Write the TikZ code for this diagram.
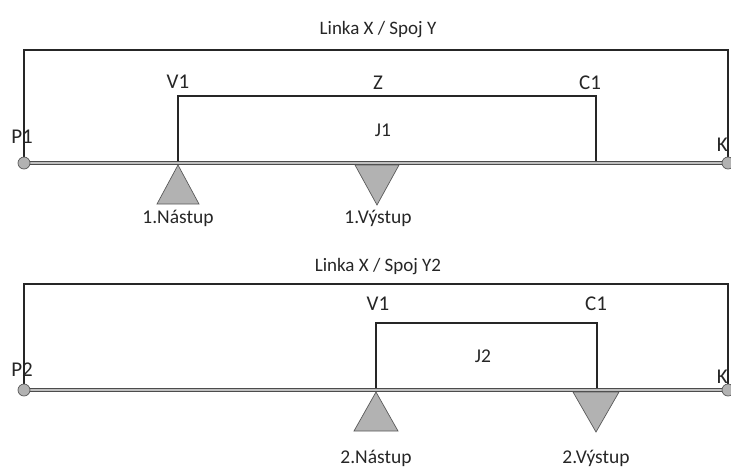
\documentclass[tikz,border=0pt]{standalone}
\usepackage{fontspec}
\setmainfont{Carlito}
\usetikzlibrary{positioning, calc}
\tikzset{
    frame/.style={draw=black!85, line width=1.1pt},
    track/.style={draw=black!70, double=gray!50, double distance=1.8pt, line width=1pt},
    stopmark/.style={draw=black!65, fill=gray!60, line width=0.7pt},
    endpt/.style={circle, draw=black!65, fill=gray!60, line width=0.7pt,
                  minimum size=12pt, inner sep=0pt},
    ptlbl/.style={font=\fontsize{21}{21}\selectfont, inner sep=0pt, text=black!85},
    titlelbl/.style={font=\fontsize{19}{19}\selectfont, inner sep=0pt, text=black!85},
    stoplbl/.style={font=\fontsize{19.5}{19.5}\selectfont, inner sep=0pt, text=black!85},
}
\begin{document}
\begin{tikzpicture}[x=1pt, y=1pt]
    \useasboundingbox (0,0) rectangle (731,-467);
    % upper run
    \node[titlelbl] (title1) at (378,-30) {Linka X / Spoj Y};
    \coordinate (a1) at (24,-163);
    \coordinate (b1) at (728,-163);
    \coordinate (v1) at (178,-163);
    \coordinate (c1) at (596,-163);
    \draw[frame] (a1) |- (728,-50) -- (b1);
    \draw[frame] (v1) |- (596,-96) -- (c1);
    \draw[track] (a1) -- (b1);
    \node[endpt] (p1) at (a1) {};
    \node[endpt] (k1) at (b1) {};
    \node[ptlbl] (lblv1) at (178,-82) {V1};
    \node[ptlbl] (lblz) at (378,-83) {Z};
    \node[ptlbl] (lblc1) at (590,-83) {C1};
    \node[stoplbl] (lblj1) at (383,-130) {J1};
    \node[ptlbl] (lblp1) at (22,-137) {P1};
    \node[ptlbl, left=0pt of b1, yshift=18pt] (lblk1) {K};
    \draw[stopmark] (178,-165) -- (199,-204) -- (157,-204) -- cycle;
    \draw[stopmark] (355,-165) -- (399,-165) -- (377,-205) -- cycle;
    \node[stoplbl] (on1) at (178,-218) {1.Nástup};
    \node[stoplbl] (off1) at (378,-218) {1.Výstup};
    % lower run
    \node[titlelbl] (title2) at (378,-267) {Linka X / Spoj Y2};
    \coordinate (a2) at (24,-390);
    \coordinate (b2) at (728,-390);
    \coordinate (v2) at (376,-390);
    \coordinate (c2) at (597,-390);
    \draw[frame] (a2) |- (728,-284) -- (b2);
    \draw[frame] (v2) |- (597,-323) -- (c2);
    \draw[track] (a2) -- (b2);
    \node[endpt] (p2) at (a2) {};
    \node[endpt] (k2) at (b2) {};
    \node[ptlbl] (lblv2) at (378,-304) {V1};
    \node[ptlbl] (lblc2) at (596,-304) {C1};
    \node[stoplbl] (lblj2) at (483,-356) {J2};
    \node[ptlbl] (lblp2) at (22,-370) {P2};
    \node[ptlbl, left=0pt of b2, yshift=13pt] (lblk2) {K};
    \draw[stopmark] (376,-392) -- (398,-431) -- (354,-431) -- cycle;
    \draw[stopmark] (573,-392) -- (619,-392) -- (596,-432) -- cycle;
    \node[stoplbl] (on2) at (376,-458) {2.Nástup};
    \node[stoplbl] (off2) at (596,-458) {2.Výstup};
\end{tikzpicture}
\end{document}
